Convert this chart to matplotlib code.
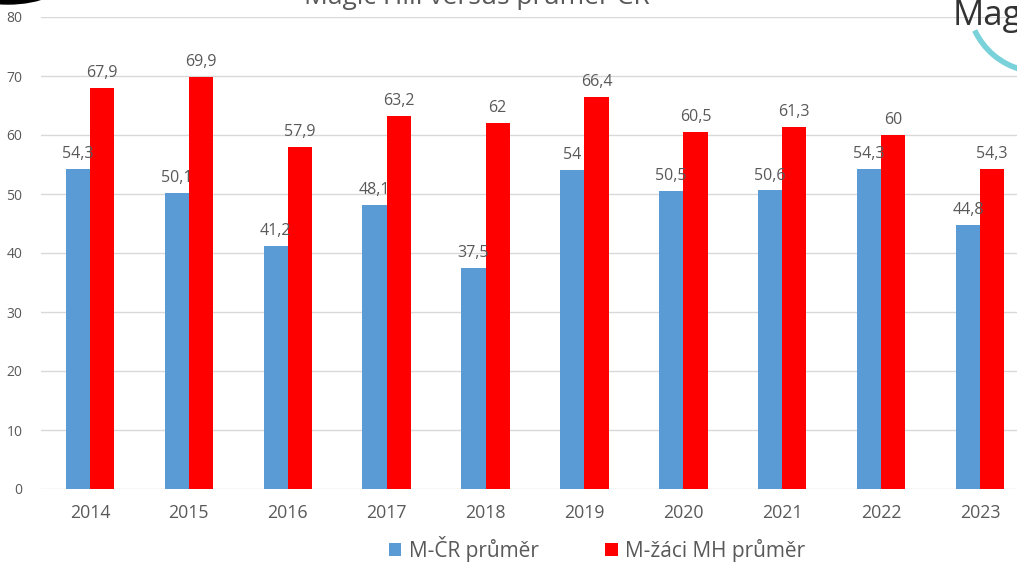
import matplotlib
matplotlib.use("Agg")
import matplotlib.pyplot as plt
from matplotlib.patches import Ellipse, Arc
import numpy as np

plt.rcParams['font.family'] = ['Open Sans', 'DejaVu Sans']

# data
years = ['2014', '2015', '2016', '2017', '2018', '2019', '2020', '2021', '2022', '2023']
cr_prumer = [54.3, 50.1, 41.2, 48.1, 37.5, 54, 50.5, 50.6, 54.3, 44.8]
mh_prumer = [67.9, 69.9, 57.9, 63.2, 62, 66.4, 60.5, 61.3, 60, 54.3]
series_names = ['M-ČR průměr', 'M-žáci MH průměr']
title = 'Magic Hill versus průměr ČR'

W, H = 1017, 562
fig = plt.figure(figsize=(W / 100, H / 100), dpi=100)

# axes extends past the right edge (chart is cropped there)
left_px, right_px, top_px, bottom_px = 40.5, 1029.5, 17, 489
ax = fig.add_axes([left_px / W, 1 - bottom_px / H,
                   (right_px - left_px) / W, (bottom_px - top_px) / H])

x = np.arange(len(years))
bw = 0.245
gray = '#595959'
b1 = ax.bar(x - bw / 2, cr_prumer, bw, color='#5B9BD5', label=series_names[0], zorder=3)
b2 = ax.bar(x + bw / 2, mh_prumer, bw, color='#FF0000', label=series_names[1], zorder=3)


def fmt(v):
    return ('%g' % v).replace('.', ',')


for bars, vals in ((b1, cr_prumer), (b2, mh_prumer)):
    for rect, v in zip(bars, vals):
        ax.annotate(fmt(v), (rect.get_x() + rect.get_width() / 2, v),
                    xytext=(0, 5), textcoords='offset points',
                    ha='center', va='bottom', fontsize=11.5, color=gray)

ax.set_xlim(-0.5, len(years) - 0.5)
ax.set_ylim(0, 80)
ax.set_yticks(range(0, 81, 10))
ax.set_xticks(x)
ax.set_xticklabels(years)
ax.tick_params(axis='y', length=0, labelsize=10, labelcolor=gray, pad=13)
ax.tick_params(axis='x', length=0, labelsize=12.8, labelcolor=gray, pad=11)
ax.grid(axis='y', color='#D9D9D9', linewidth=1, zorder=0)
for s in ax.spines.values():
    s.set_visible(False)

fig.legend(handles=[b1, b2], labels=series_names, loc='center',
           bbox_to_anchor=(597 / W, 1 - 549 / H), ncol=2, frameon=False,
           fontsize=15, labelcolor=gray, handlelength=0.6, handleheight=0.6,
           handletextpad=0.35, columnspacing=3.2)

# overlay for the cropped decorations
ov = fig.add_axes([0, 0, 1, 1], zorder=10)
ov.set_xlim(0, W)
ov.set_ylim(H, 0)
ov.axis('off')
ov.patch.set_alpha(0)
ov.text(477, 4, title, ha='center', va='baseline', fontsize=19, color=gray)
ov.add_patch(Ellipse((8, -24), 120, 56, color='black'))
ov.text(953, 25, 'Mag', ha='left', va='baseline', fontsize=25, color='#333333')
ov.add_patch(Arc((1040, 0), 144, 144, theta1=105, theta2=155,
                 color='#79D2DA', linewidth=4))

fig.savefig('out.png', dpi=100)
